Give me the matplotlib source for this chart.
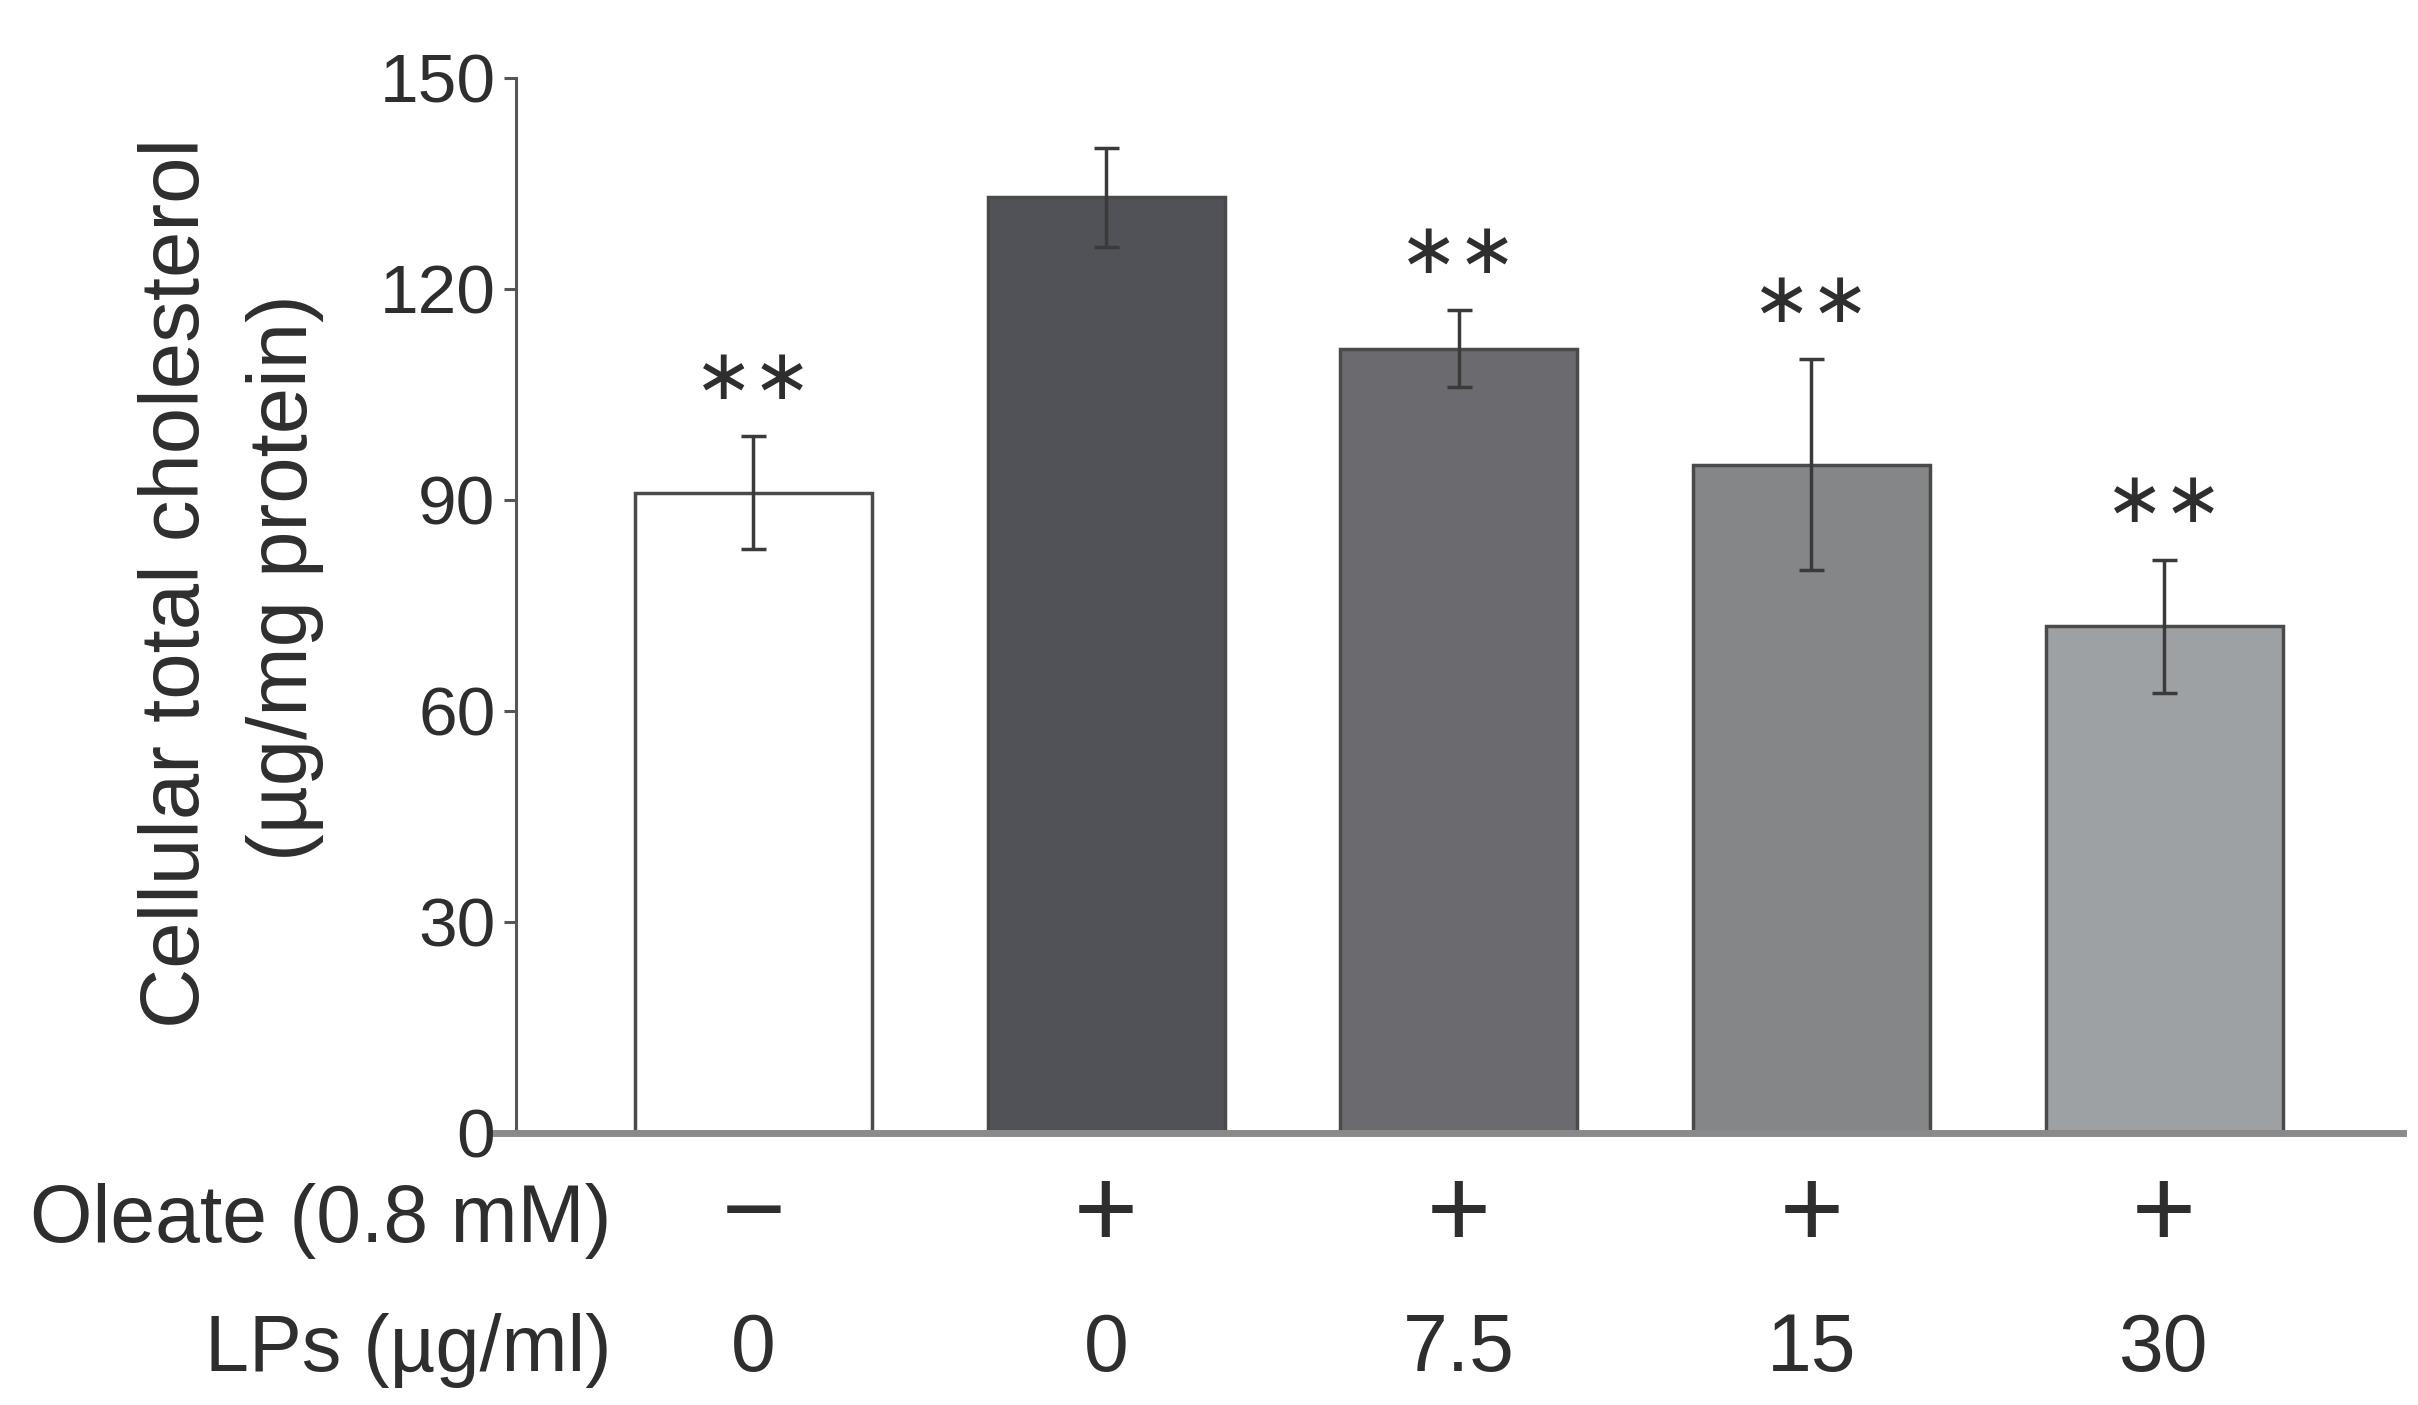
import matplotlib
matplotlib.use("Agg")
import matplotlib.pyplot as plt
import matplotlib.transforms as mtransforms
import numpy as np

# ---- data ----
oleate = ["\u2212", "+", "+", "+", "+"]
lps = ["0", "0", "7.5", "15", "30"]
means = [91.0, 133.0, 111.5, 95.0, 72.0]
errors = [8.0, 7.0, 5.5, 15.0, 9.5]
significant = [True, False, True, True, True]
bar_colors = ["#ffffff", "#505258", "#6b6b6f", "#848688", "#9ea1a3"]
yticks = [0, 30, 60, 90, 120, 150]

plt.rcParams['font.family'] = ['Liberation Sans', 'DejaVu Sans']
text_color = "#2e2e2e"

fig = plt.figure(figsize=(24.18, 14.05), dpi=100)
ax = fig.add_axes([0.2051, 0.1936, 0.9937 - 0.2051, 0.9447 - 0.1936])

x = np.arange(len(means))
ax.bar(x, means, width=0.672, color=bar_colors, edgecolor="#4a4a4a",
       linewidth=2.5, zorder=2)
ax.errorbar(x, means, yerr=errors, fmt='none', ecolor="#3a3a3a",
            elinewidth=2.5, capsize=9, capthick=2.5, zorder=3)

star_offset = 5.3
for xi, m, e, s in zip(x, means, errors, significant):
    if s:
        ax.text(xi, m + e + star_offset, "\u2217\u2217", ha='center',
                va='baseline', fontsize=51, color=text_color,
                family=['DejaVu Sans'])

ax.set_xlim(-0.73, 4.677)
ax.set_ylim(0, 150)
ax.set_xticks([])

for s in ['top', 'right']:
    ax.spines[s].set_visible(False)
ax.spines['left'].set_position(('data', -0.6725))
ax.spines['left'].set_color("#555555")
ax.spines['left'].set_linewidth(2.2)
ax.spines['bottom'].set_color("#8a8a8a")
ax.spines['bottom'].set_linewidth(5)
ax.set_yticks(yticks)
ax.set_yticklabels([str(t) for t in yticks])
ax.tick_params(axis='y', length=9, width=2.2, color="#555555", pad=6,
               labelsize=50, labelcolor=text_color)

# y label (two lines)
fig.text(0.073, 0.585, "Cellular total cholesterol", rotation=90,
         ha='center', va='center', fontsize=60, color=text_color)
fig.text(0.118, 0.589, "(\u00b5g/mg protein)", rotation=90,
         ha='center', va='center', fontsize=60, color=text_color)

# bottom condition rows
trans = mtransforms.blended_transform_factory(ax.transData, fig.transFigure)
row_y = [0.131, 0.039]
fig.text(0.253, row_y[0], "Oleate (0.8 mM)", ha='right', va='center',
         fontsize=58, color=text_color)
fig.text(0.253, row_y[1], "LPs (\u00b5g/ml)", ha='right', va='center',
         fontsize=57, color=text_color)
for xi, o, l in zip(x, oleate, lps):
    ax.text(xi, row_y[0] + 0.002, o, transform=trans, ha='center', va='center',
            fontsize=80, color=text_color,
            family=['Noto Sans CJK JP', 'DejaVu Sans'])
    ax.text(xi, row_y[1], l, transform=trans, ha='center', va='center',
            fontsize=58, color=text_color)

fig.savefig("out.png", dpi=100)
